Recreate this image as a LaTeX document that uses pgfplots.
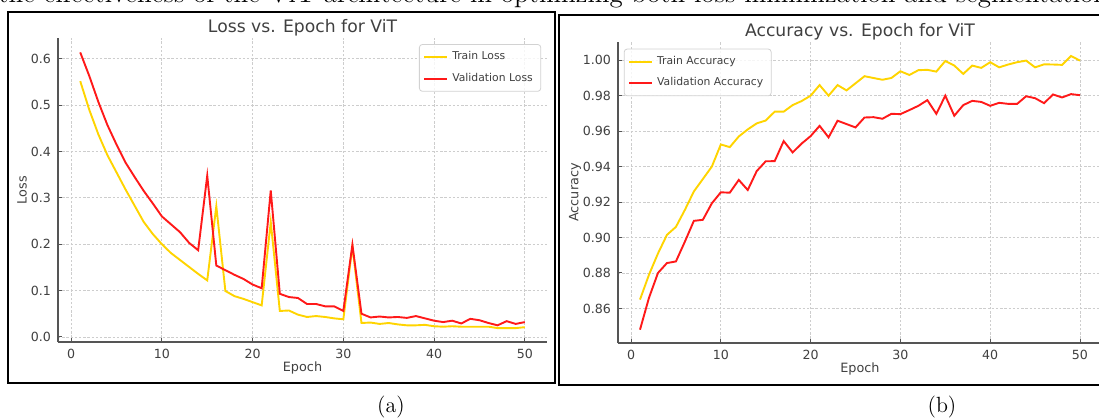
\documentclass[border=0pt]{standalone}
\usepackage{fontspec}
\setsansfont{DejaVu Sans}
\usepackage{pgfplots}
\pgfplotsset{compat=1.18}

\definecolor{txt}{RGB}{64,64,64}
\definecolor{spine}{RGB}{85,85,85}
\definecolor{gridc}{RGB}{205,205,205}
\definecolor{trainc}{RGB}{255,212,0}
\definecolor{valc}{RGB}{255,25,25}

\pgfplotsset{
  vit/.style={
    scale only axis,
    axis lines=left,
    axis line style={-, spine, line width=0.7pt},
    xmin=-1.45, xmax=52.45,
    xtick={0,10,20,30,40,50},
    tick align=inside,
    major tick length=1.8pt,
    tick style={spine, line width=0.5pt},
    grid=major,
    major grid style={gridc, dash pattern=on 1.2pt off 0.9pt, line width=0.4pt},
    tick label style={font=\fontsize{6.3}{7}\selectfont\sffamily, text=txt},
    /pgf/number format/assume math mode=true,
    label style={font=\fontsize{6.4}{7}\selectfont\sffamily, text=txt},
    every axis title/.style={at={(0.5,1)}, anchor=base, yshift=3pt,
      font=\fontsize{8.6}{9}\selectfont\sffamily, text=txt},
    legend style={font=\fontsize{5.4}{6.4}\selectfont\sffamily, text=txt, draw=gray!35,
      rounded corners=1.5pt, fill=white, fill opacity=0.8, text opacity=1,
      inner xsep=2pt, inner ysep=1.5pt, row sep=1.2pt},
    legend cell align=left,
    legend image code/.code={\draw[#1] (0pt,0pt) -- (11.5pt,0pt);},
    every axis plot/.append style={line width=0.95pt, mark=none},
  }
}

\begin{document}
\begin{tikzpicture}
\useasboundingbox (0,0) rectangle (549.5pt,209.5pt);
\clip (0,0) rectangle (549.5pt,209.5pt);

% cut line of text above the figures
\node[anchor=base west, inner sep=0pt, font=\fontsize{13.5}{15}\selectfont] at (-1pt,208pt)
  {the effectiveness of the ViT architecture in optimizing both loss minimization and segmentation accuracy.};

% frames
\draw[line width=1pt] (4pt,18pt) rectangle (277.5pt,203.5pt);
\draw[line width=1pt] (279.5pt,17pt) rectangle (560pt,202pt);

% (a) loss
\begin{axis}[vit,
    at={(29pt,38.5pt)}, anchor=south west,
    width=244.5pt, height=152pt,
    ymin=-0.011, ymax=0.645,
    ytick={0,0.1,0.2,0.3,0.4,0.5,0.6},
    yticklabel style={/pgf/number format/.cd, fixed, fixed zerofill, precision=1},
    title={Loss vs. Epoch for ViT},
    xlabel={Epoch}, ylabel={Loss},
    xlabel style={at={(axis description cs:0.5,-0.0855)}, anchor=center},
    ylabel style={at={(axis description cs:-0.0736,0.5)}, anchor=center},
    legend style={at={(0.988,0.98)}, anchor=north east},
]
\addplot[trainc] coordinates {
 (1,0.552) (2,0.490) (3,0.437) (4,0.392) (5,0.355) (6,0.318) (7,0.283) (8,0.248) (9,0.222) (10,0.200)
 (11,0.181) (12,0.166) (13,0.151) (14,0.136) (15,0.122) (16,0.282) (17,0.099) (18,0.088) (19,0.082) (20,0.075)
 (21,0.068) (22,0.248) (23,0.056) (24,0.057) (25,0.048) (26,0.043) (27,0.045) (28,0.043) (29,0.040) (30,0.038)
 (31,0.195) (32,0.030) (33,0.031) (34,0.028) (35,0.030) (36,0.027) (37,0.025) (38,0.025) (39,0.026) (40,0.023)
 (41,0.022) (42,0.023) (43,0.022) (44,0.022) (45,0.022) (46,0.022) (47,0.019) (48,0.019) (49,0.019) (50,0.021)
};
\addplot[valc] coordinates {
 (1,0.614) (2,0.563) (3,0.507) (4,0.457) (5,0.415) (6,0.376) (7,0.345) (8,0.315) (9,0.288) (10,0.260)
 (11,0.243) (12,0.226) (13,0.203) (14,0.187) (15,0.348) (16,0.154) (17,0.144) (18,0.134) (19,0.125) (20,0.113)
 (21,0.105) (22,0.316) (23,0.093) (24,0.086) (25,0.084) (26,0.071) (27,0.071) (28,0.066) (29,0.066) (30,0.056)
 (31,0.199) (32,0.050) (33,0.042) (34,0.044) (35,0.042) (36,0.043) (37,0.041) (38,0.045) (39,0.040) (40,0.035)
 (41,0.032) (42,0.035) (43,0.029) (44,0.039) (45,0.036) (46,0.030) (47,0.025) (48,0.034) (49,0.028) (50,0.032)
};
\legend{Train Loss, Validation Loss}
\end{axis}

% (b) accuracy
\begin{axis}[vit,
    at={(309pt,38pt)}, anchor=south west,
    width=242pt, height=150.5pt,
    ymin=0.8405, ymax=1.0103,
    ytick={0.86,0.88,0.90,0.92,0.94,0.96,0.98,1.00},
    yticklabel style={/pgf/number format/.cd, fixed, fixed zerofill, precision=2},
    title={Accuracy vs. Epoch for ViT},
    xlabel={Epoch}, ylabel={Accuracy},
    xlabel style={at={(axis description cs:0.5,-0.0864)}, anchor=center},
    ylabel style={at={(axis description cs:-0.089,0.5)}, anchor=center},
    legend style={at={(0.012,0.978)}, anchor=north west},
]
\addplot[trainc] coordinates {
 (1,0.865) (2,0.879) (3,0.891) (4,0.9015) (5,0.906) (6,0.9156) (7,0.926) (8,0.933) (9,0.940) (10,0.9525)
 (11,0.951) (12,0.957) (13,0.961) (14,0.9644) (15,0.966) (16,0.971) (17,0.971) (18,0.9747) (19,0.977) (20,0.980)
 (21,0.986) (22,0.980) (23,0.986) (24,0.983) (25,0.987) (26,0.991) (27,0.990) (28,0.989) (29,0.990) (30,0.9938)
 (31,0.9917) (32,0.9944) (33,0.9946) (34,0.9936) (35,0.9996) (36,0.997) (37,0.9923) (38,0.997) (39,0.9957) (40,0.9989)
 (41,0.996) (42,0.9976) (43,0.9989) (44,0.9998) (45,0.996) (46,0.9977) (47,0.9976) (48,0.9974) (49,1.0024) (50,0.9998)
};
\addplot[valc] coordinates {
 (1,0.848) (2,0.866) (3,0.880) (4,0.8856) (5,0.8865) (6,0.8977) (7,0.9094) (8,0.910) (9,0.9193) (10,0.9255)
 (11,0.9253) (12,0.9325) (13,0.9268) (14,0.9375) (15,0.943) (16,0.9431) (17,0.9544) (18,0.948) (19,0.953) (20,0.9572)
 (21,0.963) (22,0.9565) (23,0.9659) (24,0.964) (25,0.9621) (26,0.9677) (27,0.9679) (28,0.967) (29,0.9698) (30,0.9696)
 (31,0.9719) (32,0.9743) (33,0.9775) (34,0.9698) (35,0.980) (36,0.9687) (37,0.9747) (38,0.9771) (39,0.9765) (40,0.9743)
 (41,0.976) (42,0.9754) (43,0.9754) (44,0.9797) (45,0.9786) (46,0.9758) (47,0.9807) (48,0.979) (49,0.9809) (50,0.9803)
};
\legend{Train Accuracy, Validation Accuracy}
\end{axis}

% captions
\node[font=\fontsize{11}{13}\selectfont] at (195.5pt,6pt) {(a)};
\node[font=\fontsize{11}{13}\selectfont] at (471pt,6pt) {(b)};
\end{tikzpicture}
\end{document}
